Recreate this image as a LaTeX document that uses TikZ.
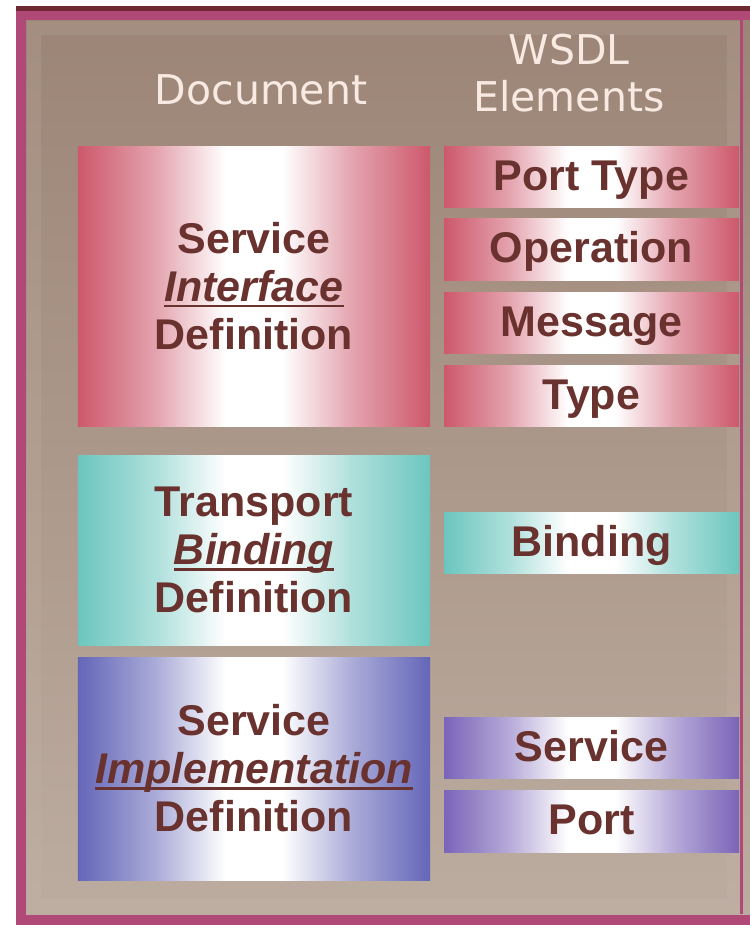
\documentclass[tikz,border=0pt]{standalone}
\usepackage{fontspec}
\setmainfont{Liberation Sans}
\newfontfamily\hdrfont{DejaVu Sans}
\definecolor{bgtop}{RGB}{156,133,118}
\definecolor{bgbot}{RGB}{188,172,160}
\definecolor{framelt}{RGB}{200,186,176}
\definecolor{magborder}{RGB}{176,72,120}
\definecolor{darktop}{RGB}{110,40,50}
\definecolor{redc}{RGB}{205,88,108}
\definecolor{tealc}{RGB}{108,198,190}
\definecolor{bluec}{RGB}{100,102,184}
\definecolor{purplec}{RGB}{122,100,184}
\definecolor{txt}{RGB}{105,50,46}
\definecolor{hdr}{RGB}{248,234,226}
\pgfdeclarehorizontalshading{redshade}{100bp}{color(0bp)=(redc); color(25bp)=(redc); color(36bp)=(redc!55!white); color(46bp)=(white); color(54bp)=(white); color(64bp)=(redc!55!white); color(75bp)=(redc); color(100bp)=(redc)}
\pgfdeclarehorizontalshading{tealshade}{100bp}{color(0bp)=(tealc); color(25bp)=(tealc); color(36bp)=(tealc!55!white); color(46bp)=(white); color(54bp)=(white); color(64bp)=(tealc!55!white); color(75bp)=(tealc); color(100bp)=(tealc)}
\pgfdeclarehorizontalshading{blueshade}{100bp}{color(0bp)=(bluec); color(25bp)=(bluec); color(36bp)=(bluec!55!white); color(46bp)=(white); color(54bp)=(white); color(64bp)=(bluec!55!white); color(75bp)=(bluec); color(100bp)=(bluec)}
\pgfdeclarehorizontalshading{purpshade}{100bp}{color(0bp)=(purplec); color(25bp)=(purplec); color(36bp)=(purplec!55!white); color(46bp)=(white); color(54bp)=(white); color(64bp)=(purplec!55!white); color(75bp)=(purplec); color(100bp)=(purplec)}
\newcommand\myul[1]{\setbox0=\hbox{#1}\rlap{\rule[-6bp]{\wd0}{2.8bp}}\box0}
\begin{document}
\begin{tikzpicture}[x=1bp,y=-1bp,
  lbox/.style={minimum width=352bp, inner sep=0pt, text=txt, align=center,
    font=\fontsize{43bp}{48bp}\selectfont\bfseries},
  rbox/.style={minimum width=295bp, minimum height=61bp, inner sep=0pt, text=txt,
    text height=31bp, text depth=4bp, font=\fontsize{43bp}{48bp}\selectfont\bfseries},
  redsh/.style={shading=redshade},
  tealsh/.style={shading=tealshade},
  bluesh/.style={shading=blueshade},
  purpsh/.style={shading=purpshade},
  hdrtext/.style={text=hdr, align=center, font=\hdrfont\fontsize{41bp}{47bp}\selectfont}
]
\useasboundingbox (0,0) rectangle (750,925);
\fill[white] (0,0) rectangle (750,925);
% frame
\fill[magborder] (16,8) rectangle (750,925);
\fill[darktop] (16,6) rectangle (750,11);
\shade[top color=bgtop, bottom color=bgbot] (26,20) rectangle (750,914);
\draw[framelt, line width=14bp, opacity=0.18] (34,28) rectangle (734,906);
\fill[magborder] (740,20) rectangle (743,914);

% headers
\node[hdrtext] (hdoc) at (261,90) {Document};
\node[hdrtext] (hwsdl) at (569,73) {WSDL\\Elements};

% left boxes
\node[lbox, redsh, minimum height=280bp] (sid) at (254,286)
  {Service\\\myul{\itshape Interface}\\Definition};
\node[lbox, tealsh, minimum height=190bp] (tbd) at (254,550)
  {Transport\\\myul{\itshape Binding}\\Definition};
\node[lbox, bluesh, minimum height=223bp] (sim) at (254,768.5)
  {Service\\\myul{\itshape Implementation}\\Definition};

% right boxes
\node[rbox, redsh] (porttype) at (591.5,176.5) {Port Type};
\node[rbox, redsh, minimum height=62bp] (operation) at (591.5,249) {Operation};
\node[rbox, redsh] (message) at (591.5,322.5) {Message};
\node[rbox, redsh] (type) at (591.5,395.5) {Type};
\node[rbox, tealsh] (binding) at (591.5,542.5) {Binding};
\node[rbox, purpsh] (service) at (591.5,747.5) {Service};
\node[rbox, purpsh, minimum height=62bp] (port) at (591.5,821) {Port};
\end{tikzpicture}
\end{document}
